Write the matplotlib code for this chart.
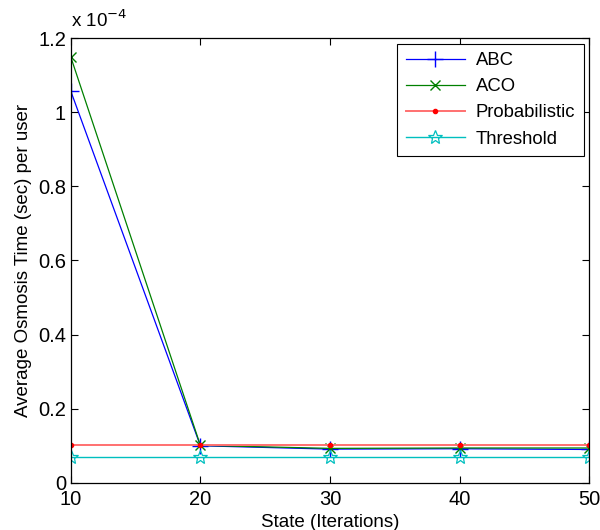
import matplotlib
matplotlib.use("Agg")
import matplotlib.pyplot as plt
from matplotlib.ticker import FuncFormatter

plt.rcParams['font.family'] = ['Liberation Sans', 'DejaVu Sans']

states = [10, 20, 30, 40, 50]
abc = [1.057e-4, 0.100e-4, 0.091e-4, 0.092e-4, 0.090e-4]
aco = [1.149e-4, 0.101e-4, 0.093e-4, 0.094e-4, 0.094e-4]
probabilistic = [0.1025e-4, 0.1025e-4, 0.1025e-4, 0.1025e-4, 0.1025e-4]
threshold = [0.069e-4, 0.069e-4, 0.069e-4, 0.069e-4, 0.069e-4]

fig = plt.figure(figsize=(6.0, 5.3), dpi=100)
ax = fig.add_axes([0.118, 0.089, 0.864, 0.839])

ax.plot(states, abc, color='#0000ff', lw=0.9, marker='+', ms=11, mew=1.0, label='ABC')
ax.plot(states, aco, color='#008000', lw=0.9, marker='x', ms=7, mew=1.0, label='ACO')
ax.plot(states, probabilistic, color='#ff7070', lw=1.4, marker='.', ms=6,
        mfc='red', mec='red', label='Probabilistic')
ax.plot(states, threshold, color='#00bfbf', lw=1.0, marker='*', ms=10.5, mew=0.9,
        mfc='none', mec='#00bfbf', label='Threshold')

ax.set_xlim(10, 50)
ax.set_ylim(0, 1.2e-4)
ax.set_xticks(states)
ax.set_yticks([i * 0.2e-4 for i in range(7)])
ax.yaxis.set_major_formatter(FuncFormatter(lambda v, p: f"{v * 1e4:g}"))
ax.tick_params(direction='in', top=True, right=True, labelsize=14.5, length=5, width=0.8)
ax.tick_params(axis='x', pad=5)
for s in ax.spines.values():
    s.set_linewidth(0.9)

ax.text(0.0, 1.015, r'x 10$^{-4}$', transform=ax.transAxes, fontsize=13.5,
        ha='left', va='bottom')

ax.set_xlabel('State (Iterations)', fontsize=13.5, labelpad=4)
ax.set_ylabel('Average Osmosis Time (sec) per user', fontsize=13.5, labelpad=4)

leg = ax.legend(loc='upper right', fontsize=13.3, fancybox=False, framealpha=1,
                edgecolor='black', borderaxespad=0.3, handlelength=3.2,
                labelspacing=0.5, borderpad=0.45, handletextpad=0.6)
leg.get_frame().set_linewidth(0.8)

fig.savefig('out.png', dpi=100)
